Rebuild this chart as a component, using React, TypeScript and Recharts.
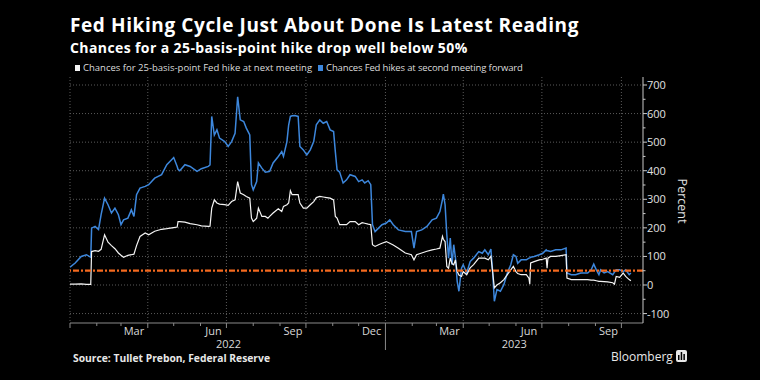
import React from 'react';
import { CartesianGrid, Line, LineChart, ReferenceLine, XAxis, YAxis } from 'recharts';

// Days since 2022-01-01
const DAYS = [
  0, 6, 13, 19, 24, 25, 29, 33, 36, 40, 44, 48, 52, 56, 59, 62, 67, 71, 74, 77, 81, 87, 91, 98, 106,
  112, 120, 124, 125, 127, 133, 139, 147, 152, 160, 162, 164, 167, 170, 173, 179, 183, 187, 191, 194,
  197, 201, 204, 208, 210, 212, 216, 218, 222, 226, 229, 231, 235, 241, 245, 247, 251, 253, 255, 257,
  260, 264, 266, 270, 274, 278, 282, 285, 289, 293, 297, 301, 305, 307, 309, 312, 316, 320, 324, 330,
  334, 338, 341, 345, 348, 350, 353, 357, 361, 366, 370, 374, 380, 388, 395, 398, 401, 407, 413, 419,
  424, 428, 431, 432, 434, 436, 438, 440, 442, 444, 446, 448, 450, 453, 455, 459, 463, 467, 473, 477,
  480, 484, 487, 489, 491, 494, 498, 502, 506, 510, 513, 516, 518, 522, 528, 531, 532, 533, 537, 543,
  547, 551, 552, 553, 556, 562, 568, 574, 575, 580, 585, 591, 599, 603, 606, 609, 612, 614, 618, 622,
  628, 630, 632, 636, 640, 643, 647, 649,
];

// Chances for 25-basis-point Fed hike at next meeting (white)
const NEXT_MEETING = [
  3, 3, 4, 2, 2, 117, 120, 118, 125, 176, 150, 138, 127, 112, 104, 97, 104, 106, 108, 138, 170, 182, 176, 188, 195,
  197, 201, 203, 222, 222, 220, 215, 211, 207, 205, 206, 269, 298, 287, 283, 281, 279, 292, 298, 362,
  322, 316, 310, 304, 234, 222, 234, 269, 240, 240, 234, 240, 252, 267, 257, 275, 281, 287, 330, 316,
  316, 316, 287, 269, 269, 281, 292, 306, 310, 308, 306, 304, 298, 240, 234, 211, 211, 211, 222, 222,
  211, 218, 216, 213, 211, 141, 135, 141, 146, 152, 146, 140, 129, 112, 106, 88, 106, 112, 118, 123,
  126, 129, 170, 160, 152, 65, 59, 94, 75, 71, 88, 47, 35, 30, 47, 36, 60, 71, 94, 94,
  94, 88, 100, 47, -10, 0, 8, 19, 36, 53, 65, 47, 40, 36, 36, 24, 3, 77, 82, 88,
  90, 94, 59, 94, 100, 100, 103, 106, 24, 19, 19, 19, 19, 17, 17, 15, 13, 13, 12, 11,
  8, 3, 30, 27, 42, 30, 19, 15,
];

// Chances Fed hikes at second meeting forward (blue)
const SECOND_MEETING = [
  62, 77, 100, 106, 97, 199, 205, 194, 246, 304, 281, 252, 269, 246, 211, 228, 234, 263, 240, 316, 339, 345, 351, 374, 386,
  421, 446, 415, 405, 400, 421, 415, 398, 407, 415, 420, 590, 525, 543, 514, 502, 485, 502, 531, 659,
  578, 572, 549, 525, 351, 333, 362, 427, 409, 395, 396, 398, 427, 450, 467, 450, 502, 560, 590, 592,
  593, 590, 485, 473, 455, 473, 502, 561, 578, 566, 572, 543, 537, 467, 403, 395, 357, 368, 386, 380,
  362, 368, 357, 365, 351, 211, 187, 199, 211, 217, 228, 211, 193, 187, 187, 129, 187, 193, 205, 228,
  234, 257, 300, 318, 281, 176, 94, 164, 71, 141, 94, 13, -22, 59, 71, 42, 82, 94, 117, 111,
  123, 106, 126, 47, -57, -16, -22, 1, 42, 71, 106, 100, 76, 88, 88, 94, 95, 97, 100, 106,
  111, 123, 120, 120, 117, 123, 123, 129, 42, 36, 36, 42, 42, 53, 73, 53, 36, 53, 42, 47,
  36, 45, 53, 53, 47, 53, 36, 42,
];

const Y_MAJOR = [-100, 0, 100, 200, 300, 400, 500, 600, 700];
const Y_MINOR = [-50, 50, 150, 250, 350, 450, 550, 650];
const Y_DOMAIN = [-133, 728];
const THRESHOLD = 50;

const QUARTER_MONTHS = ['Mar', 'Jun', 'Sep', 'Dec', 'Mar', 'Jun', 'Sep'];
const YEARS = ['2022', '2023'];

const START = Date.UTC(2022, 0, 1);
const dayOf = (y: number, m: number, d: number) => Math.round((Date.UTC(y, m, d) - START) / 86400000);
const X_END = dayOf(2023, 9, 26);

const data = DAYS.map((day, i) => ({ day, next: NEXT_MEETING[i], second: SECOND_MEETING[i] }));

// month tick marks, quarter gridlines, mid-month labels and year labels, all on one axis
type TickInfo = { kind: 'minor' | 'major' | 'sep' | 'label' | 'year'; text?: string };
const xTickInfo = new Map<number, TickInfo>();
const quarterStarts: number[] = [];
for (let i = 0; i < 22; i++) {
  const y = 2022 + Math.floor(i / 12);
  const m = i % 12;
  const d = dayOf(y, m, 1);
  if (d > X_END) break;
  const isQuarter = m % 3 === 0;
  if (isQuarter) quarterStarts.push(d);
  xTickInfo.set(d, { kind: y === 2023 && m === 0 ? 'sep' : isQuarter ? 'major' : 'minor' });
}
let q = 0;
for (let i = 0; i < 22; i++) {
  const y = 2022 + Math.floor(i / 12);
  const m = i % 12;
  if (m % 3 === 2 && q < QUARTER_MONTHS.length) {
    xTickInfo.set(dayOf(y, m, 16), { kind: 'label', text: QUARTER_MONTHS[q] });
    q++;
  }
}
const jan23 = dayOf(2023, 0, 1);
xTickInfo.set(Math.round(jan23 / 2) + 0.5, { kind: 'year', text: YEARS[0] });
xTickInfo.set((jan23 + X_END) / 2, { kind: 'year', text: YEARS[1] });
const X_TICKS = Array.from(xTickInfo.keys()).sort((a, b) => a - b);

const FONT = '"Open Sans", "DejaVu Sans", sans-serif';
const WHITE = '#f4f4f4';
const BLUE = '#3d87dc';
const ORANGE = '#f46a1f';
const GRID = '#5a5a5a';

function XTick(props: any) {
  const { x, y, payload } = props;
  const info = xTickInfo.get(payload.value);
  if (!info) return null;
  if (info.kind === 'minor' || info.kind === 'major' || info.kind === 'sep') {
    const len = info.kind === 'sep' ? 27 : info.kind === 'major' ? 5 : 3;
    return <line x1={x} x2={x} y1={y} y2={y + len} stroke="#8a8a8a" strokeWidth={1} />;
  }
  return (
    <text
      x={x}
      y={y + (info.kind === 'label' ? 12 : 25)}
      textAnchor="middle"
      fill="#d8d8d8"
      fontSize={11}
      fontFamily={FONT}
    >
      {info.text}
    </text>
  );
}

function YTick(props: any) {
  const { x, y, payload } = props;
  const major = Y_MAJOR.includes(payload.value);
  return (
    <g>
      <line x1={x} x2={x + (major ? 4 : 2.5)} y1={y} y2={y} stroke="#c8c8c8" strokeWidth={1} />
      {major && (
        <text x={x + 4} y={y + 4} textAnchor="start" fill="#e0e0e0" fontSize={11} fontFamily={FONT}>
          {payload.value}
        </text>
      )}
    </g>
  );
}

export default function App() {
  return (
    <div
      style={{
        position: 'absolute',
        left: 0,
        top: 0,
        width: 760,
        height: 380,
        background: '#000',
        fontFamily: FONT,
        overflow: 'hidden',
      }}
    >
      <div style={{ position: 'absolute', left: 70, top: 15.5, color: '#fff', fontSize: 19, fontWeight: 700, lineHeight: 1, letterSpacing: 0.6, whiteSpace: 'nowrap' }}>
        Fed Hiking Cycle Just About Done Is Latest Reading
      </div>
      <div style={{ position: 'absolute', left: 70, top: 40.5, color: '#fff', fontSize: 14, fontWeight: 700, lineHeight: 1, letterSpacing: 0.4, whiteSpace: 'nowrap' }}>
        Chances for a 25-basis-point hike drop well below 50%
      </div>
      <div style={{ position: 'absolute', left: 75, top: 63, color: '#dcdcdc', fontSize: 9.5, lineHeight: 1, whiteSpace: 'nowrap', display: 'flex', alignItems: 'center' }}>
        <span style={{ display: 'inline-block', width: 5, height: 6, background: WHITE, marginRight: 3 }} />
        <span>Chances for 25-basis-point Fed hike at next meeting</span>
        <span style={{ display: 'inline-block', width: 5, height: 6, background: BLUE, marginLeft: 6, marginRight: 3 }} />
        <span style={{ letterSpacing: -0.15 }}>Chances Fed hikes at second meeting forward</span>
      </div>

      <LineChart
        width={760}
        height={380}
        data={data}
        margin={{ top: 77, right: 67, bottom: 27, left: 70 }}
        style={{ position: 'absolute', left: 0, top: 0 }}
      >
        <CartesianGrid
          stroke={GRID}
          strokeDasharray="1 2"
          horizontalValues={Y_MAJOR}
          verticalValues={quarterStarts}
        />
        <XAxis
          dataKey="day"
          type="number"
          domain={[0, X_END]}
          allowDataOverflow
          ticks={X_TICKS}
          interval={0}
          tickLine={false}
          tickSize={0}
          tickMargin={0}
          height={30}
          axisLine={{ stroke: '#8a8a8a' }}
          tick={<XTick />}
        />
        <YAxis
          orientation="right"
          type="number"
          domain={Y_DOMAIN}
          allowDataOverflow
          ticks={[...Y_MAJOR, ...Y_MINOR].sort((a, b) => a - b)}
          interval={0}
          tickLine={false}
          tickSize={0}
          tickMargin={0}
          width={50}
          axisLine={{ stroke: '#c8c8c8' }}
          tick={<YTick />}
        />
        <Line
          dataKey="second"
          type="linear"
          stroke={BLUE}
          strokeWidth={1.5}
          dot={false}
          isAnimationActive={false}
        />
        <Line
          dataKey="next"
          type="linear"
          stroke={WHITE}
          strokeWidth={1.2}
          dot={false}
          isAnimationActive={false}
        />
        <ReferenceLine y={THRESHOLD} stroke={ORANGE} strokeWidth={2.2} strokeDasharray="6 2 2 2" />
      </LineChart>

      <div
        style={{
          position: 'absolute',
          left: 682,
          top: 201,
          color: '#e0e0e0',
          fontSize: 12.5,
          lineHeight: 1,
          whiteSpace: 'nowrap',
          transform: 'translate(-50%, -50%) rotate(90deg)',
        }}
      >
        Percent
      </div>

      <div style={{ position: 'absolute', left: 73, top: 352.5, color: '#e8e8e8', fontSize: 10.3, fontWeight: 700, lineHeight: 1, whiteSpace: 'nowrap' }}>
        Source: Tullet Prebon, Federal Reserve
      </div>
      <div style={{ position: 'absolute', left: 611, top: 350, color: '#e8e8e8', fontSize: 12, lineHeight: 1, whiteSpace: 'nowrap', display: 'flex', alignItems: 'center' }}>
        <span>Bloomberg</span>
        <svg width={11} height={13} style={{ marginLeft: 3 }}>
          <rect x={0} y={0} width={11} height={12} rx={2} fill="#e8e8e8" />
          <rect x={2} y={5} width={1.5} height={5} fill="#000" />
          <rect x={4.7} y={2} width={1.5} height={8} fill="#000" />
          <rect x={7.4} y={4} width={1.5} height={6} fill="#000" />
        </svg>
      </div>
    </div>
  );
}
